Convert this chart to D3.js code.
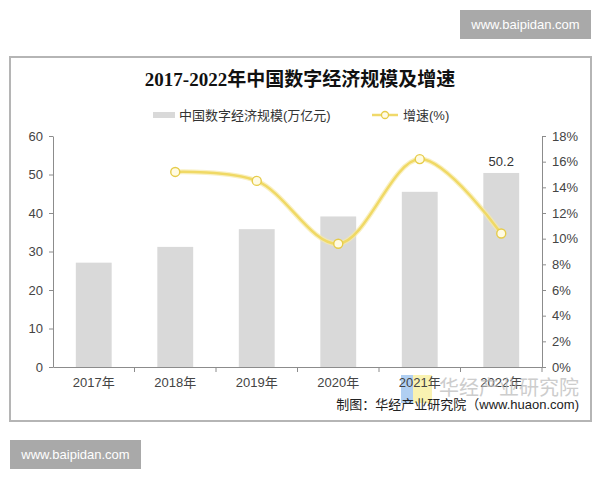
<!DOCTYPE html>
<html><head><meta charset="utf-8">
<script src="https://cdn.jsdelivr.net/npm/d3@7"></script>
<style>
body{margin:0;background:#fff;}
svg{display:block;font-family:"Liberation Sans","Noto Sans CJK SC",sans-serif;}
</style></head>
<body><svg id="c" width="600" height="480"></svg>
<script>
const years = ["2017年","2018年","2019年","2020年","2021年","2022年"];
const scale = [27.1, 31.2, 35.8, 39.1, 45.5, 50.4];
const growth = [null, 15.2, 14.5, 9.6, 16.2, 10.4];
const leftTicks = [0,10,20,30,40,50,60];
const rightTicks = [0,2,4,6,8,10,12,14,16,18];
const barLabel = "50.2";
const title = "2017-2022年中国数字经济规模及增速";
const legendBar = "中国数字经济规模(万亿元)";
const legendLine = "增速(%)";
const credit = "制图：华经产业研究院（www.huaon.com)";
const watermark = "华经产业研究院";
const site = "www.baipidan.com";

const svg = d3.select("#c");
// outer frame
svg.append("rect").attr("x",10).attr("y",57).attr("width",581).attr("height",364)
  .attr("fill","#fff").attr("stroke","#b5b5b5").attr("stroke-width",2);

// watermark boxes
[[460,10],[10,440]].forEach(([x,y])=>{
  svg.append("rect").attr("x",x).attr("y",y).attr("width",131).attr("height",29).attr("fill","#a9a9a9");
  svg.append("text").attr("x",x+65.5).attr("y",y+19).attr("text-anchor","middle")
    .attr("font-size",13).attr("fill","#fff").text(site);
});

// title
svg.append("text").attr("x",300).attr("y",86).attr("text-anchor","middle")
  .attr("font-family","'Liberation Serif','Noto Sans CJK SC',serif")
  .attr("font-weight","bold").attr("font-size",19).attr("fill","#111").text(title);

// legend
svg.append("rect").attr("x",153).attr("y",112).attr("width",22).attr("height",6).attr("fill","#d9d9d9");
svg.append("text").attr("x",179).attr("y",120).attr("font-size",13).attr("fill","#333").text(legendBar);
svg.append("line").attr("x1",372).attr("x2",398).attr("y1",115).attr("y2",115).attr("stroke","#f0d96a").attr("stroke-width",2.5);
svg.append("circle").attr("cx",385).attr("cy",115).attr("r",3.5).attr("fill","#fffbe6").attr("stroke","#e6cc4a").attr("stroke-width",1.3);
svg.append("text").attr("x",403).attr("y",120).attr("font-size",13).attr("fill","#333").text(legendLine);

const x0 = 53, x1 = 542, y0 = 367, y1 = 136;
const x = d3.scaleBand().domain(years).range([x0,x1]).paddingInner(0.56).paddingOuter(0.28);
const xb = d3.scaleBand().domain(years).range([x0,x1]);
const yL = d3.scaleLinear().domain([0,60]).range([y0,y1]);
const yR = d3.scaleLinear().domain([0,18]).range([y0,y1]);

// logo behind 2021
svg.append("rect").attr("x",401).attr("y",375).attr("width",12).attr("height",28).attr("fill","#9cc3ef").attr("opacity",0.8);
svg.append("rect").attr("x",413).attr("y",375).attr("width",19).attr("height",28).attr("fill","#f8ef9e").attr("opacity",0.8);

// bars
svg.append("g").selectAll("rect").data(years).join("rect")
  .attr("x",d=>x(d)).attr("width",x.bandwidth())
  .attr("y",(d,i)=>yL(scale[i])).attr("height",(d,i)=>y0-yL(scale[i]))
  .attr("fill","#d9d9d9");

svg.append("text").attr("x",x(years[5])+x.bandwidth()/2).attr("y",yL(scale[5])-7)
  .attr("text-anchor","middle").attr("font-size",13).attr("fill","#333").text(barLabel);

// axes
const styleAxis = g=>{
  g.select(".domain").attr("stroke","#8c8c8c");
  g.selectAll(".tick line").attr("stroke","#8c8c8c");
  g.selectAll(".tick text").attr("fill","#444").attr("font-size",13)
   .attr("font-family","'Liberation Sans','Noto Sans CJK SC',sans-serif");
};
svg.append("g").attr("transform",`translate(${x0},0)`)
  .call(d3.axisLeft(yL).tickValues(leftTicks).tickSize(4).tickSizeOuter(0).tickPadding(6)).call(styleAxis);
svg.append("g").attr("transform",`translate(${x1},0)`)
  .call(d3.axisRight(yR).tickValues(rightTicks).tickFormat(d=>d+"%").tickSize(4).tickSizeOuter(0).tickPadding(6)).call(styleAxis);
const gx = svg.append("g").attr("transform",`translate(0,${y0})`)
  .call(d3.axisBottom(xb).tickSize(0).tickSizeOuter(0).tickPadding(11)).call(styleAxis);
gx.selectAll(".tick text").attr("dy","0.71em");
gx.selectAll(".sep").data(years.slice(1)).join("line").attr("class","sep")
  .attr("x1",d=>xb(d)).attr("x2",d=>xb(d)).attr("y1",0).attr("y2",5).attr("stroke","#8c8c8c");
gx.append("line").attr("x1",x1).attr("x2",x1).attr("y1",0).attr("y2",5).attr("stroke","#8c8c8c");

// line
const pts = years.map((d,i)=>({d,v:growth[i]})).filter(p=>p.v!=null);
const cx = d=>x(d)+x.bandwidth()/2;
svg.append("path").datum(pts)
  .attr("d",d3.line().x(p=>cx(p.d)).y(p=>yR(p.v)).curve(d3.curveCatmullRom))
  .attr("fill","none").attr("stroke","#f6e9a8").attr("stroke-width",5).attr("opacity",0.7);
svg.append("path").datum(pts)
  .attr("d",d3.line().x(p=>cx(p.d)).y(p=>yR(p.v)).curve(d3.curveCatmullRom))
  .attr("fill","none").attr("stroke","#f0d965").attr("stroke-width",2.5);
svg.append("g").selectAll("circle").data(pts).join("circle")
  .attr("cx",p=>cx(p.d)).attr("cy",p=>yR(p.v)).attr("r",4.5)
  .attr("fill","#fffbe3").attr("stroke","#e6cc4a").attr("stroke-width",1.4);

// watermark text
svg.append("text").attr("x",579).attr("y",395).attr("text-anchor","end")
  .attr("font-size",20).attr("fill","#b8b8b8").attr("opacity",0.7).text(watermark);

// credit
svg.append("text").attr("x",579).attr("y",409).attr("text-anchor","end")
  .attr("font-size",13).attr("fill","#222").text(credit);
</script></body></html>
